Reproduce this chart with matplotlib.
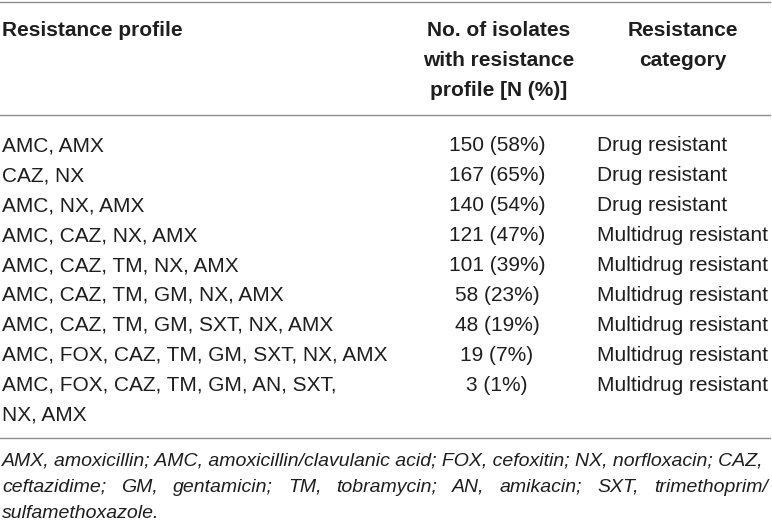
import matplotlib
matplotlib.use("Agg")
import matplotlib.pyplot as plt
from matplotlib.lines import Line2D

# table data
header_profile = "Resistance profile"
header_count = ["No. of isolates", "with resistance", "profile [N (%)]"]
header_category = ["Resistance", "category"]

profiles = [
    ["AMC, AMX"],
    ["CAZ, NX"],
    ["AMC, NX, AMX"],
    ["AMC, CAZ, NX, AMX"],
    ["AMC, CAZ, TM, NX, AMX"],
    ["AMC, CAZ, TM, GM, NX, AMX"],
    ["AMC, CAZ, TM, GM, SXT, NX, AMX"],
    ["AMC, FOX, CAZ, TM, GM, SXT, NX, AMX"],
    ["AMC, FOX, CAZ, TM, GM, AN, SXT,", "NX, AMX"],
]
n_isolates = [150, 167, 140, 121, 101, 58, 48, 19, 3]
percent = [58, 65, 54, 47, 39, 23, 19, 7, 1]
category = ["Drug resistant"] * 3 + ["Multidrug resistant"] * 6

footnote = [
    "AMX, amoxicillin; AMC, amoxicillin/clavulanic acid; FOX, cefoxitin; NX, norfloxacin; CAZ,",
    "ceftazidime; GM, gentamicin; TM, tobramycin; AN, amikacin; SXT, trimethoprim/",
    "sulfamethoxazole.",
]

W, H = 772, 525
fig = plt.figure(figsize=(W / 100, H / 100), dpi=100)
fig.patch.set_facecolor("white")

txt_col = "#1e1e1e"
rule_col = "#8f8f8f"
font = "Liberation Sans"


def fy(y):
    return 1 - y / H


def fx(x):
    return x / W


def put(x, y, s, ha="left", weight="normal", size=15, style="normal"):
    # y is the vertical centre of the capitals, in pixels from the top
    cap = size * 100 / 72 * 0.716
    return fig.text(fx(x), fy(y + cap / 2), s, ha=ha, va="baseline",
                    fontsize=size, fontweight=weight, fontstyle=style,
                    family=font, color=txt_col)


def rule(y):
    fig.add_artist(Line2D([fx(0), fx(770)], [fy(y), fy(y)],
                          color=rule_col, lw=1.0, transform=fig.transFigure))


rule(1.5)
rule(115)
rule(438)

# header
put(2, 29, header_profile, weight="bold")
for k, s in enumerate(header_count):
    put(499, 29 + 30 * k, s, ha="center", weight="bold")
for k, s in enumerate(header_category):
    put(683, 29 + 30 * k, s, ha="center", weight="bold")

# body
row_y = 144
pitch = 29.9
for prof, n, p, cat in zip(profiles, n_isolates, percent, category):
    for k, line in enumerate(prof):
        put(2, row_y + pitch * k, line)
    put(497, row_y, f"{n} ({p}%)", ha="center")
    put(597, row_y, cat)
    row_y += pitch * len(prof)

# footnote: first and last line set normally, second line justified
fig.canvas.draw()
renderer = fig.canvas.get_renderer()
fsize = 14.0
foot_y = [459, 485, 511]
for k, line in enumerate(footnote):
    if k != 1:
        put(2, foot_y[k], line, size=fsize, style="italic")
        continue
    words = line.split(" ")
    arts = [put(0, foot_y[k], w, size=fsize, style="italic") for w in words]
    widths = [a.get_window_extent(renderer).width for a in arts]
    gap = max((768 - 2 - sum(widths)) / (len(words) - 1), 3.0)
    x = 2
    for a, w in zip(arts, widths):
        a.set_x(fx(x))
        x += w + gap

fig.savefig("out.png", dpi=100, facecolor="white")
